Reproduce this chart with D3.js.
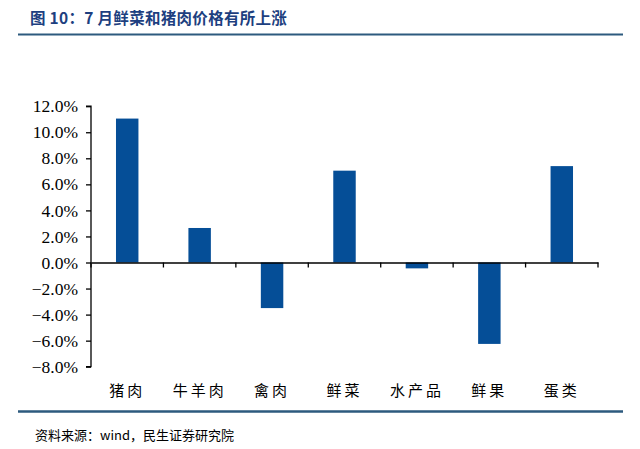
<!DOCTYPE html>
<html><head><meta charset="utf-8">
<script src="https://cdn.jsdelivr.net/npm/d3@7"></script>
<style>body{margin:0;background:#fff;} svg{display:block;}</style>
</head><body>
<script>
const categories = ["猪肉","牛羊肉","禽肉","鲜菜","水产品","鲜果","蛋类"];
const values = [11.05, 2.65, -3.5, 7.05, -0.45, -6.25, 7.4];
const yTicks = [-8,-6,-4,-2,0,2,4,6,8,10,12];
const title = "图 10：7 月鲜菜和猪肉价格有所上涨";
const source = "资料来源：wind，民生证券研究院";

const W = 640, H = 449;
const svg = d3.select("body").append("svg").attr("width", W).attr("height", H);

svg.append("text").attr("x", 30).attr("y", 24)
  .attr("font-family", "Noto Sans CJK SC").attr("font-weight", "bold")
  .attr("font-size", 15.5).attr("letter-spacing", 0.3).attr("fill", "#1d3f80").text(title);
svg.append("line").attr("x1", 18).attr("x2", 623).attr("y1", 34.5).attr("y2", 34.5)
  .attr("stroke", "#2d5a7e").attr("stroke-width", 2);

const x = d3.scaleBand().domain(categories).range([91, 598]).paddingInner(0.69).paddingOuter(0.345);
const xAxisScale = d3.scaleBand().domain(categories).range([91, 598]);
const y = d3.scaleLinear().domain([-8, 12]).range([366.7, 106.2]);

svg.selectAll("rect.bar").data(values).join("rect").attr("class","bar")
  .attr("x", (d,i) => x(categories[i]))
  .attr("width", x.bandwidth())
  .attr("y", d => y(Math.max(0,d)))
  .attr("height", d => Math.abs(y(d) - y(0)))
  .attr("fill", "#054e97");

// y axis
const yAxis = svg.append("g").attr("transform", "translate(91,0)")
  .call(d3.axisLeft(y).tickValues(yTicks).tickSize(5).tickPadding(8).tickFormat(d => d3.format(".1f")(d) + "%"));
yAxis.select(".domain").attr("stroke", "#000").attr("stroke-width", 1.3).attr("d", `M-5,${y(-8)}H0V${y(12)}H-5`);
yAxis.selectAll(".tick line").attr("stroke", "#000").attr("stroke-width", 1.3);
yAxis.selectAll(".tick text").attr("font-family", "Liberation Serif").attr("font-size", 17.5).attr("fill", "#000");

// x axis at zero
const xAxis = svg.append("g").attr("transform", `translate(0,${y(0)})`)
  .call(d3.axisBottom(xAxisScale).tickSize(0).tickFormat(""));
xAxis.select(".domain").attr("stroke", "#000").attr("stroke-width", 1.3);
const bounds = categories.map(c => xAxisScale(c)).concat([598]);
xAxis.selectAll("line.sep").data(bounds).join("line").attr("class","sep")
  .attr("x1", d => d).attr("x2", d => d).attr("y1", 0).attr("y2", 5)
  .attr("stroke", "#000").attr("stroke-width", 1.3);

svg.append("g").selectAll("text").data(categories).join("text")
  .attr("x", d => xAxisScale(d) + xAxisScale.bandwidth()/2)
  .attr("y", 396).attr("text-anchor", "middle")
  .attr("font-family", "Noto Sans CJK SC").attr("font-size", 15).attr("letter-spacing", 3)
  .attr("fill", "#000").text(d => d);

svg.append("line").attr("x1", 18).attr("x2", 623).attr("y1", 411.5).attr("y2", 411.5)
  .attr("stroke", "#2d5a7e").attr("stroke-width", 2.5);

svg.append("text").attr("x", 35).attr("y", 440)
  .attr("font-family", "Noto Sans CJK SC").attr("font-size", 13).attr("fill", "#000").text(source);
</script>
</body></html>
